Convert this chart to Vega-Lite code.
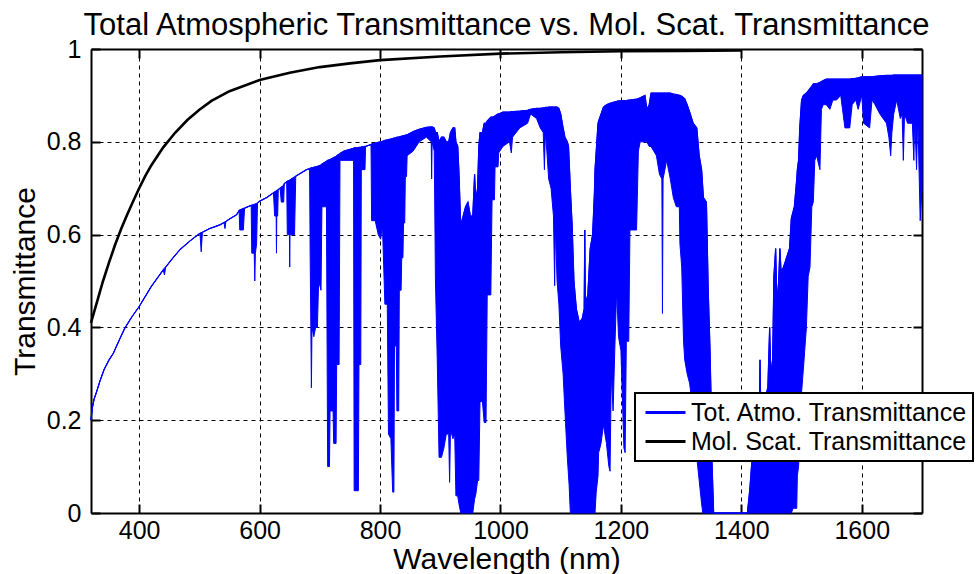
{
"$schema":"https://vega.github.io/schema/vega-lite/v6.json",
"width":831,"height":464,
"autosize":{"type":"none"},
"padding":{"left":91,"top":49,"right":58,"bottom":61},
"background":"white",
"title":{"text":"Total Atmospheric Transmittance vs. Mol. Scat. Transmittance","fontSize":31,"font":"Liberation Sans","fontWeight":"normal","color":"#000","anchor":"middle","frame":"group","offset":-5},
"config":{
 "view":{"stroke":null},
 "axis":{"gridColor":"#000","gridDash":[4,4],"gridWidth":1,"gridOpacity":1,"tickSize":-9,"tickWidth":2,"tickColor":"#000","domainColor":"#000","domainWidth":2,"labelFontSize":25,"labelFont":"Liberation Sans","labelColor":"#000","titleFontSize":30,"titleFont":"Liberation Sans","titleFontWeight":"normal","titleColor":"#000","zindex":1,"labelFlush":false,"labelOverlap":false},
 "legend":{"orient":"none","legendX":544,"legendY":344,"strokeColor":"#000","strokeWidth":2,"fillColor":"white","padding":5,"labelFontSize":25,"labelFont":"Liberation Sans","labelColor":"#000","symbolType":"stroke","symbolSize":1600,"symbolStrokeWidth":3,"symbolOffset":4,"labelOffset":4,"clipHeight":29,"rowPadding":0,"labelLimit":500,"title":null}
},
"datasets":{
"mol":[
{"w":320,"t":0.41},{"w":330,"t":0.455},{"w":340,"t":0.50},{"w":350,"t":0.54},{"w":360,"t":0.578},{"w":370,"t":0.612},{"w":380,"t":0.643},{"w":390,"t":0.672},{"w":400,"t":0.70},{"w":410,"t":0.726},{"w":420,"t":0.749},{"w":440,"t":0.788},{"w":460,"t":0.82},{"w":480,"t":0.847},{"w":500,"t":0.869},{"w":520,"t":0.888},{"w":550,"t":0.909},{"w":600,"t":0.933},{"w":650,"t":0.949},{"w":700,"t":0.961},{"w":750,"t":0.969},{"w":800,"t":0.976},{"w":900,"t":0.984},{"w":1000,"t":0.99},{"w":1100,"t":0.993},{"w":1200,"t":0.995},{"w":1300,"t":0.996},{"w":1400,"t":0.997}
],
"tot":[
{"w":320,"up":0.200,"lo":0.200},{"w":322,"up":0.225,"lo":0.225},{"w":325,"up":0.245,"lo":0.245},{"w":329,"up":0.260,"lo":0.260},{"w":335,"up":0.285,"lo":0.285},{"w":342,"up":0.310,"lo":0.310},{"w":350,"up":0.330,"lo":0.330},{"w":357,"up":0.344,"lo":0.344},{"w":366,"up":0.370,"lo":0.370},{"w":376,"up":0.398,"lo":0.398},{"w":388,"up":0.423,"lo":0.423},{"w":400,"up":0.445,"lo":0.445},{"w":420,"up":0.488,"lo":0.488},{"w":440,"up":0.524,"lo":0.524},{"w":442,"up":0.527,"lo":0.513},{"w":444,"up":0.530,"lo":0.530},{"w":455,"up":0.548,"lo":0.548},{"w":468,"up":0.568,"lo":0.568},{"w":485,"up":0.587,"lo":0.587},{"w":501,"up":0.603,"lo":0.603},{"w":503,"up":0.604,"lo":0.563},{"w":505,"up":0.605,"lo":0.605},{"w":517,"up":0.613,"lo":0.613},{"w":534,"up":0.621,"lo":0.621},{"w":541,"up":0.626,"lo":0.626},{"w":542.5,"up":0.627,"lo":0.613},{"w":544,"up":0.628,"lo":0.628},{"w":548,"up":0.632,"lo":0.632},{"w":562,"up":0.643,"lo":0.643},{"w":566,"up":0.652,"lo":0.652},{"w":567,"up":0.653,"lo":0.610},{"w":573,"up":0.656,"lo":0.610},{"w":575,"up":0.657,"lo":0.657},{"w":586,"up":0.663,"lo":0.663},{"w":587,"up":0.663,"lo":0.560},{"w":591,"up":0.665,"lo":0.560},{"w":592,"up":0.665,"lo":0.500},{"w":593,"up":0.666,"lo":0.560},{"w":595,"up":0.667,"lo":0.580},{"w":596.5,"up":0.668,"lo":0.668},{"w":600,"up":0.672,"lo":0.672},{"w":612,"up":0.680,"lo":0.680},{"w":623,"up":0.690,"lo":0.690},{"w":625,"up":0.692,"lo":0.640},{"w":627.5,"up":0.694,"lo":0.640},{"w":628,"up":0.694,"lo":0.560},{"w":628.5,"up":0.695,"lo":0.640},{"w":630,"up":0.696,"lo":0.640},{"w":631,"up":0.697,"lo":0.697},{"w":634,"up":0.700,"lo":0.700},{"w":636,"up":0.702,"lo":0.670},{"w":640,"up":0.706,"lo":0.670},{"w":641,"up":0.710,"lo":0.710},{"w":645,"up":0.714,"lo":0.714},{"w":646,"up":0.715,"lo":0.600},{"w":649.5,"up":0.717,"lo":0.600},{"w":650,"up":0.717,"lo":0.530},{"w":650.5,"up":0.718,"lo":0.600},{"w":658,"up":0.724,"lo":0.600},{"w":660,"up":0.726,"lo":0.726},{"w":678,"up":0.740,"lo":0.740},{"w":683,"up":0.742,"lo":0.742},{"w":684,"up":0.743,"lo":0.550},{"w":686,"up":0.744,"lo":0.270},{"w":687,"up":0.744,"lo":0.400},{"w":690,"up":0.745,"lo":0.380},{"w":693,"up":0.746,"lo":0.400},{"w":696,"up":0.747,"lo":0.400},{"w":698,"up":0.748,"lo":0.500},{"w":702,"up":0.750,"lo":0.480},{"w":703.5,"up":0.752,"lo":0.660},{"w":711,"up":0.758,"lo":0.660},{"w":713,"up":0.760,"lo":0.100},{"w":716,"up":0.761,"lo":0.100},{"w":717,"up":0.762,"lo":0.220},{"w":722,"up":0.765,"lo":0.220},{"w":723,"up":0.766,"lo":0.150},{"w":727,"up":0.768,"lo":0.150},{"w":728,"up":0.770,"lo":0.320},{"w":732,"up":0.773,"lo":0.320},{"w":733.5,"up":0.775,"lo":0.760},{"w":740,"up":0.780,"lo":0.760},{"w":756,"up":0.786,"lo":0.760},{"w":757,"up":0.787,"lo":0.048},{"w":764,"up":0.787,"lo":0.048},{"w":765,"up":0.788,"lo":0.320},{"w":768,"up":0.788,"lo":0.320},{"w":769,"up":0.789,"lo":0.780},{"w":770,"up":0.789,"lo":0.740},{"w":775,"up":0.790,"lo":0.740},{"w":776,"up":0.790,"lo":0.790},{"w":785,"up":0.794,"lo":0.794},{"w":786,"up":0.795,"lo":0.630},{"w":792,"up":0.797,"lo":0.630},{"w":797,"up":0.799,"lo":0.600},{"w":801,"up":0.800,"lo":0.590},{"w":804,"up":0.801,"lo":0.620},{"w":808,"up":0.803,"lo":0.450},{"w":812,"up":0.804,"lo":0.450},{"w":814,"up":0.805,"lo":0.170},{"w":818,"up":0.806,"lo":0.160},{"w":821,"up":0.807,"lo":0.045},{"w":823,"up":0.808,"lo":0.045},{"w":824,"up":0.808,"lo":0.360},{"w":827,"up":0.809,"lo":0.360},{"w":828,"up":0.810,"lo":0.220},{"w":831,"up":0.810,"lo":0.220},{"w":832,"up":0.811,"lo":0.480},{"w":835,"up":0.812,"lo":0.480},{"w":836,"up":0.812,"lo":0.550},{"w":838,"up":0.813,"lo":0.550},{"w":839,"up":0.813,"lo":0.625},{"w":841,"up":0.814,"lo":0.625},{"w":842,"up":0.814,"lo":0.725},{"w":844,"up":0.815,"lo":0.725},{"w":845,"up":0.815,"lo":0.770},{"w":855,"up":0.822,"lo":0.780},{"w":865,"up":0.827,"lo":0.800},{"w":877,"up":0.831,"lo":0.810},{"w":885,"up":0.832,"lo":0.800},{"w":885.7,"up":0.832,"lo":0.720},{"w":886.5,"up":0.832,"lo":0.800},{"w":890,"up":0.830,"lo":0.780},{"w":892,"up":0.820,"lo":0.500},{"w":895,"up":0.820,"lo":0.330},{"w":898,"up":0.800,"lo":0.120},{"w":902,"up":0.810,"lo":0.120},{"w":906,"up":0.810,"lo":0.140},{"w":910,"up":0.800,"lo":0.170},{"w":914,"up":0.800,"lo":0.170},{"w":915.5,"up":0.810,"lo":0.066},{"w":917,"up":0.820,"lo":0.180},{"w":921,"up":0.830,"lo":0.160},{"w":924,"up":0.830,"lo":0.170},{"w":926,"up":0.800,"lo":0.037},{"w":929,"up":0.790,"lo":0.037},{"w":931,"up":0.735,"lo":0.020},{"w":934,"up":0.620,"lo":0.000},{"w":938,"up":0.640,"lo":0.000},{"w":942,"up":0.660,"lo":0.000},{"w":946,"up":0.670,"lo":0.000},{"w":950,"up":0.640,"lo":0.000},{"w":954,"up":0.640,"lo":0.000},{"w":957,"up":0.730,"lo":0.030},{"w":959,"up":0.675,"lo":0.040},{"w":962,"up":0.700,"lo":0.070},{"w":964,"up":0.790,"lo":0.070},{"w":966,"up":0.820,"lo":0.240},{"w":970,"up":0.820,"lo":0.240},{"w":973,"up":0.840,"lo":0.195},{"w":976,"up":0.840,"lo":0.195},{"w":978,"up":0.845,"lo":0.470},{"w":984,"up":0.853,"lo":0.470},{"w":986,"up":0.853,"lo":0.675},{"w":990,"up":0.855,"lo":0.675},{"w":991,"up":0.856,"lo":0.746},{"w":996,"up":0.860,"lo":0.746},{"w":997,"up":0.860,"lo":0.776},{"w":1004,"up":0.864,"lo":0.790},{"w":1015,"up":0.864,"lo":0.800},{"w":1018,"up":0.865,"lo":0.776},{"w":1020,"up":0.865,"lo":0.810},{"w":1032,"up":0.866,"lo":0.830},{"w":1045,"up":0.868,"lo":0.840},{"w":1050,"up":0.870,"lo":0.860},{"w":1060,"up":0.872,"lo":0.850},{"w":1066,"up":0.872,"lo":0.830},{"w":1071,"up":0.873,"lo":0.820},{"w":1073,"up":0.873,"lo":0.740},{"w":1074.5,"up":0.874,"lo":0.820},{"w":1077,"up":0.874,"lo":0.780},{"w":1080,"up":0.875,"lo":0.720},{"w":1084,"up":0.875,"lo":0.700},{"w":1088,"up":0.875,"lo":0.640},{"w":1090,"up":0.875,"lo":0.490},{"w":1091,"up":0.875,"lo":0.620},{"w":1094,"up":0.875,"lo":0.500},{"w":1097,"up":0.872,"lo":0.450},{"w":1100,"up":0.860,"lo":0.360},{"w":1104,"up":0.830,"lo":0.300},{"w":1107,"up":0.810,"lo":0.220},{"w":1111,"up":0.800,"lo":0.120},{"w":1113,"up":0.790,"lo":0.080},{"w":1114,"up":0.760,"lo":0.060},{"w":1116,"up":0.700,"lo":0.000},{"w":1119,"up":0.620,"lo":0.000},{"w":1122,"up":0.500,"lo":0.000},{"w":1126,"up":0.440,"lo":0.000},{"w":1131,"up":0.410,"lo":0.000},{"w":1136,"up":0.420,"lo":0.000},{"w":1139,"up":0.440,"lo":0.000},{"w":1140,"up":0.610,"lo":0.000},{"w":1141,"up":0.450,"lo":0.000},{"w":1145,"up":0.470,"lo":0.000},{"w":1149,"up":0.570,"lo":0.000},{"w":1153,"up":0.600,"lo":0.000},{"w":1156,"up":0.690,"lo":0.000},{"w":1157,"up":0.740,"lo":0.000},{"w":1159,"up":0.780,"lo":0.045},{"w":1162,"up":0.840,"lo":0.080},{"w":1163,"up":0.845,"lo":0.130},{"w":1167,"up":0.860,"lo":0.150},{"w":1171,"up":0.875,"lo":0.190},{"w":1176,"up":0.880,"lo":0.150},{"w":1180,"up":0.882,"lo":0.100},{"w":1182,"up":0.883,"lo":0.090},{"w":1184,"up":0.884,"lo":0.300},{"w":1187,"up":0.885,"lo":0.220},{"w":1190,"up":0.886,"lo":0.360},{"w":1193,"up":0.887,"lo":0.480},{"w":1196,"up":0.888,"lo":0.380},{"w":1200,"up":0.888,"lo":0.350},{"w":1205,"up":0.889,"lo":0.140},{"w":1207,"up":0.889,"lo":0.130},{"w":1209,"up":0.889,"lo":0.370},{"w":1213,"up":0.890,"lo":0.370},{"w":1215,"up":0.890,"lo":0.610},{"w":1226,"up":0.892,"lo":0.610},{"w":1229,"up":0.893,"lo":0.780},{"w":1232,"up":0.895,"lo":0.800},{"w":1240,"up":0.900,"lo":0.800},{"w":1243,"up":0.870,"lo":0.800},{"w":1247,"up":0.880,"lo":0.790},{"w":1250,"up":0.905,"lo":0.790},{"w":1259,"up":0.905,"lo":0.770},{"w":1264,"up":0.905,"lo":0.730},{"w":1268,"up":0.905,"lo":0.720},{"w":1269,"up":0.905,"lo":0.430},{"w":1270,"up":0.905,"lo":0.720},{"w":1276,"up":0.905,"lo":0.760},{"w":1282,"up":0.905,"lo":0.720},{"w":1287,"up":0.903,"lo":0.680},{"w":1292,"up":0.902,"lo":0.660},{"w":1297,"up":0.900,"lo":0.660},{"w":1298,"up":0.900,"lo":0.580},{"w":1301,"up":0.898,"lo":0.530},{"w":1304,"up":0.895,"lo":0.370},{"w":1306,"up":0.893,"lo":0.330},{"w":1310,"up":0.880,"lo":0.300},{"w":1314,"up":0.865,"lo":0.280},{"w":1320,"up":0.840,"lo":0.220},{"w":1326,"up":0.830,"lo":0.120},{"w":1330,"up":0.770,"lo":0.070},{"w":1334,"up":0.740,"lo":0.020},{"w":1336,"up":0.700,"lo":0.000},{"w":1337,"up":0.680,"lo":0.000},{"w":1342,"up":0.670,"lo":0.000},{"w":1345,"up":0.480,"lo":0.000},{"w":1348,"up":0.350,"lo":0.000},{"w":1349.5,"up":0.260,"lo":0.000},{"w":1351,"up":0.120,"lo":0.000},{"w":1354,"up":0.000,"lo":0.000},{"w":1410,"up":0.000,"lo":0.000},{"w":1414,"up":0.050,"lo":0.000},{"w":1418,"up":0.120,"lo":0.000},{"w":1424,"up":0.180,"lo":0.000},{"w":1430,"up":0.220,"lo":0.000},{"w":1431,"up":0.330,"lo":0.000},{"w":1432,"up":0.240,"lo":0.000},{"w":1440,"up":0.250,"lo":0.000},{"w":1444,"up":0.270,"lo":0.000},{"w":1447,"up":0.400,"lo":0.000},{"w":1449,"up":0.300,"lo":0.000},{"w":1452,"up":0.330,"lo":0.000},{"w":1454,"up":0.510,"lo":0.000},{"w":1457,"up":0.570,"lo":0.000},{"w":1459,"up":0.450,"lo":0.000},{"w":1462,"up":0.500,"lo":0.000},{"w":1464,"up":0.570,"lo":0.000},{"w":1466,"up":0.520,"lo":0.000},{"w":1470,"up":0.530,"lo":0.000},{"w":1475,"up":0.550,"lo":0.000},{"w":1480,"up":0.570,"lo":0.000},{"w":1483,"up":0.635,"lo":0.000},{"w":1486,"up":0.650,"lo":0.010},{"w":1488,"up":0.660,"lo":0.010},{"w":1492,"up":0.720,"lo":0.010},{"w":1493,"up":0.740,"lo":0.080},{"w":1495,"up":0.760,"lo":0.100},{"w":1497,"up":0.830,"lo":0.150},{"w":1500,"up":0.890,"lo":0.260},{"w":1503,"up":0.900,"lo":0.310},{"w":1508,"up":0.905,"lo":0.400},{"w":1511,"up":0.910,"lo":0.510},{"w":1514,"up":0.915,"lo":0.530},{"w":1517,"up":0.920,"lo":0.660},{"w":1519.5,"up":0.925,"lo":0.670},{"w":1522,"up":0.925,"lo":0.760},{"w":1525,"up":0.925,"lo":0.770},{"w":1530.5,"up":0.928,"lo":0.740},{"w":1533,"up":0.930,"lo":0.870},{"w":1536,"up":0.932,"lo":0.880},{"w":1541,"up":0.935,"lo":0.880},{"w":1547,"up":0.935,"lo":0.870},{"w":1552,"up":0.935,"lo":0.890},{"w":1558,"up":0.935,"lo":0.890},{"w":1565,"up":0.935,"lo":0.900},{"w":1572,"up":0.935,"lo":0.830},{"w":1580,"up":0.935,"lo":0.830},{"w":1584,"up":0.936,"lo":0.880},{"w":1590,"up":0.937,"lo":0.890},{"w":1594,"up":0.938,"lo":0.870},{"w":1600,"up":0.940,"lo":0.900},{"w":1603,"up":0.940,"lo":0.840},{"w":1613,"up":0.940,"lo":0.830},{"w":1617,"up":0.940,"lo":0.890},{"w":1622,"up":0.941,"lo":0.880},{"w":1630,"up":0.942,"lo":0.860},{"w":1641,"up":0.943,"lo":0.840},{"w":1645,"up":0.943,"lo":0.810},{"w":1648,"up":0.943,"lo":0.770},{"w":1650,"up":0.943,"lo":0.820},{"w":1653,"up":0.944,"lo":0.860},{"w":1658,"up":0.944,"lo":0.890},{"w":1664,"up":0.944,"lo":0.850},{"w":1667,"up":0.944,"lo":0.860},{"w":1669,"up":0.944,"lo":0.760},{"w":1671,"up":0.944,"lo":0.860},{"w":1676,"up":0.944,"lo":0.840},{"w":1684,"up":0.944,"lo":0.840},{"w":1686.5,"up":0.944,"lo":0.760},{"w":1688,"up":0.944,"lo":0.850},{"w":1691,"up":0.944,"lo":0.740},{"w":1693,"up":0.944,"lo":0.860},{"w":1697,"up":0.944,"lo":0.630},{"w":1700,"up":0.944,"lo":0.700}
]
},
"layer":[
 {"layer":[
  {"data":{"name":"tot"},
   "mark":{"type":"area","color":"#0000ff","fillOpacity":1,"stroke":"#0000ff","strokeWidth":1},
   "encoding":{
    "x":{"field":"w","type":"quantitative","title":"Wavelength (nm)","scale":{"domain":[320,1700],"nice":false,"zero":false},"axis":{"values":[400,600,800,1000,1200,1400,1600],"format":"d","grid":true,"labelPadding":14,"titlePadding":1}},
    "y":{"field":"up","type":"quantitative","title":"Transmittance","scale":{"domain":[0,1],"nice":false},"axis":{"values":[0,0.2,0.4,0.6,0.8,1],"format":"~g","grid":true,"labelPadding":19,"titlePadding":6}},
    "y2":{"field":"lo"}}},
  {"data":{"name":"tot"},
   "mark":{"type":"line","strokeWidth":1.2},
   "encoding":{
    "x":{"field":"w","type":"quantitative","title":"Wavelength (nm)","scale":{"domain":[320,1700],"nice":false,"zero":false},"axis":{"values":[400,600,800,1000,1200,1400,1600],"format":"d","grid":true,"labelPadding":14,"titlePadding":1}},
    "y":{"field":"up","type":"quantitative","title":"Transmittance","scale":{"domain":[0,1],"nice":false},"axis":{"values":[0,0.2,0.4,0.6,0.8,1],"format":"~g","grid":true,"labelPadding":19,"titlePadding":6}},
    "color":{"datum":"Tot. Atmo. Transmittance","type":"nominal","scale":{"domain":["Tot. Atmo. Transmittance","Mol. Scat. Transmittance"],"range":["#0000ff","#000000"]}}}},
  {"data":{"name":"mol"},
   "mark":{"type":"line","strokeWidth":2.6},
   "encoding":{
    "x":{"field":"w","type":"quantitative","title":"Wavelength (nm)","scale":{"domain":[320,1700],"nice":false,"zero":false},"axis":{"values":[400,600,800,1000,1200,1400,1600],"format":"d","grid":true,"labelPadding":14,"titlePadding":1}},
    "y":{"field":"t","type":"quantitative","title":"Transmittance","scale":{"domain":[0,1],"nice":false},"axis":{"values":[0,0.2,0.4,0.6,0.8,1],"format":"~g","grid":true,"labelPadding":19,"titlePadding":6}},
    "color":{"datum":"Mol. Scat. Transmittance","type":"nominal"}}}
 ]},
 {"data":{"name":"mol"},
  "mark":{"type":"line","opacity":0},
  "encoding":{
   "x":{"field":"w","type":"quantitative","scale":{"domain":[320,1700],"nice":false,"zero":false},"axis":{"orient":"top","values":[400,600,800,1000,1200,1400,1600],"labels":false,"title":null,"grid":false}},
   "y":{"field":"t","type":"quantitative","scale":{"domain":[0,1],"nice":false},"axis":{"orient":"right","values":[0,0.2,0.4,0.6,0.8,1],"labels":false,"title":null,"grid":false}}}}
],
"resolve":{"axis":{"x":"independent","y":"independent"}}
}
